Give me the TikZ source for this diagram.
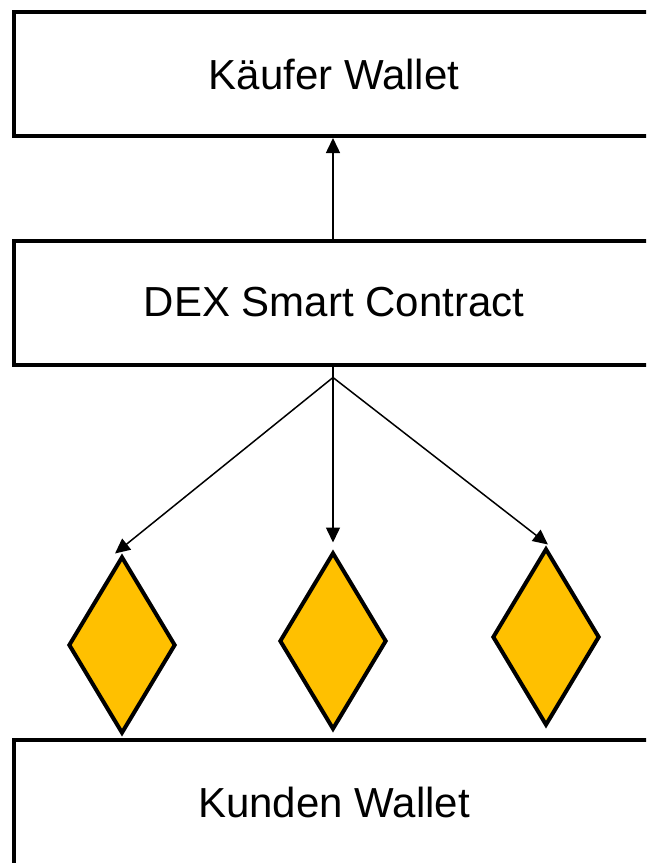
\documentclass[tikz,border=0pt]{standalone}
\usepackage{fontspec}
\setmainfont{Liberation Sans}
\usetikzlibrary{shapes.geometric,arrows.meta}
\definecolor{gold}{HTML}{FFC000}
\tikzset{
  wallet/.style={draw=black, line width=4pt, fill=white, rectangle,
    minimum width=640pt, minimum height=124pt, inner sep=0pt,
    font=\fontsize{42}{50}\selectfont},
  gem/.style={draw=black, line width=4pt, fill=gold, diamond, inner sep=0pt,
    minimum width=107pt, minimum height=177pt},
  link/.style={line width=1.5pt, -{Triangle[length=15pt,width=14pt]}}
}
\begin{document}
\begin{tikzpicture}[x=1pt,y=-1pt]
  \useasboundingbox (0,0) rectangle (646,863);
  \clip (0,0) rectangle (646,863);
  % wallets and contract
  \node[wallet] (kaeufer) at (334,74) {Käufer Wallet};
  \node[wallet] (dex) at (334,302.5) {DEX Smart Contract};
  \node[wallet, minimum height=144pt] (kunden) at (334,812) {};
  \node[font=\fontsize{42}{50}\selectfont] (kundentext) at (334,802) {Kunden Wallet};
  % tokens
  \node[gem] (g1) at (122,645) {};
  \node[gem] (g2) at (333,641) {};
  \node[gem] (g3) at (546,637) {};
  % connectors
  \coordinate (hub) at ([xshift=-1pt,yshift=-11pt]dex.south);
  \draw[link] ([xshift=-1pt]dex.north) -- ([xshift=-1pt]kaeufer.south);
  \draw[link] ([xshift=-1pt]dex.south) -- ([yshift=8pt]g2.north);
  \draw[link] (hub) -- ([xshift=-7pt,yshift=1pt]g1.north);
  \draw[link] (hub) -- ([xshift=2pt,yshift=2pt]g3.north);
\end{tikzpicture}
\end{document}
